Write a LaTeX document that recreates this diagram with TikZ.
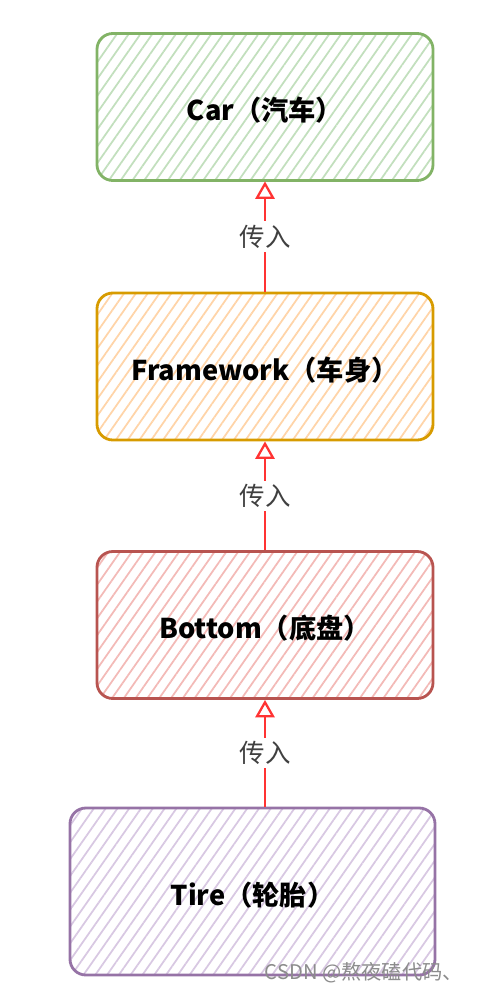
\documentclass[tikz,border=0pt]{standalone}
\usepackage{fontspec}
\setmainfont{Noto Sans CJK SC}
\usetikzlibrary{arrows.meta,patterns.meta}

\definecolor{carline}{HTML}{82B366}
\definecolor{carfill}{HTML}{C2DFBD}
\definecolor{frameline}{HTML}{D79B00}
\definecolor{framefill}{HTML}{FFD4A8}
\definecolor{bottomline}{HTML}{B85450}
\definecolor{bottomfill}{HTML}{F3BAB7}
\definecolor{tireline}{HTML}{9673A6}
\definecolor{tirefill}{HTML}{D8C8E2}
\definecolor{passred}{HTML}{FF3333}

\tikzset{
  partbox/.style={draw, line width=1.6pt, rounded corners=9pt,
    minimum width=6.72cm, minimum height=2.94cm,
    text height=1.55em, text depth=0pt,
    font=\bfseries\fontsize{15.5}{18}\selectfont},
  hatch/.style={pattern={Lines[angle=55,distance=5.5pt,line width=1pt]}, pattern color=#1},
  passarrow/.style={-{Triangle[open,length=10pt,width=11pt,line width=1.3pt]}, passred, line width=1.3pt},
  passlabel/.style={midway, fill=white, text=black!75, inner sep=2pt,
    font=\fontsize{14.5}{16}\selectfont}
}

\begin{document}
\begin{tikzpicture}
    \useasboundingbox (0,0) rectangle (9.54,-19.86);

    % Define the four parts, top to bottom
    \node[partbox, carline, hatch=carfill, text=black] (car) at (5.3,-2.14) {Car（汽车）};
    \node[partbox, frameline, hatch=framefill, text=black] (frame) at (5.3,-7.33) {Framework（车身）};
    \node[partbox, bottomline, hatch=bottomfill, text=black] (bottom) at (5.3,-12.5) {Bottom（底盘）};
    \node[partbox, tireline, hatch=tirefill, text=black, minimum width=7.3cm, minimum height=3.34cm] (tire) at (5.05,-17.83) {Tire（轮胎）};

    % Draw the passing arrows
    \draw[passarrow] (frame.north) -- (car.south) node[passlabel] {传入};
    \draw[passarrow] (bottom.north) -- (frame.south) node[passlabel] {传入};
    \draw[passarrow] (bottom.south |- tire.north) -- (bottom.south) node[passlabel] {传入};

    % Watermark
    \node[anchor=east, text=black!45, font=\fontsize{11.5}{13}\selectfont] (mark) at (9.38,-19.46) {CSDN @熬夜磕代码、};
\end{tikzpicture}
\end{document}
